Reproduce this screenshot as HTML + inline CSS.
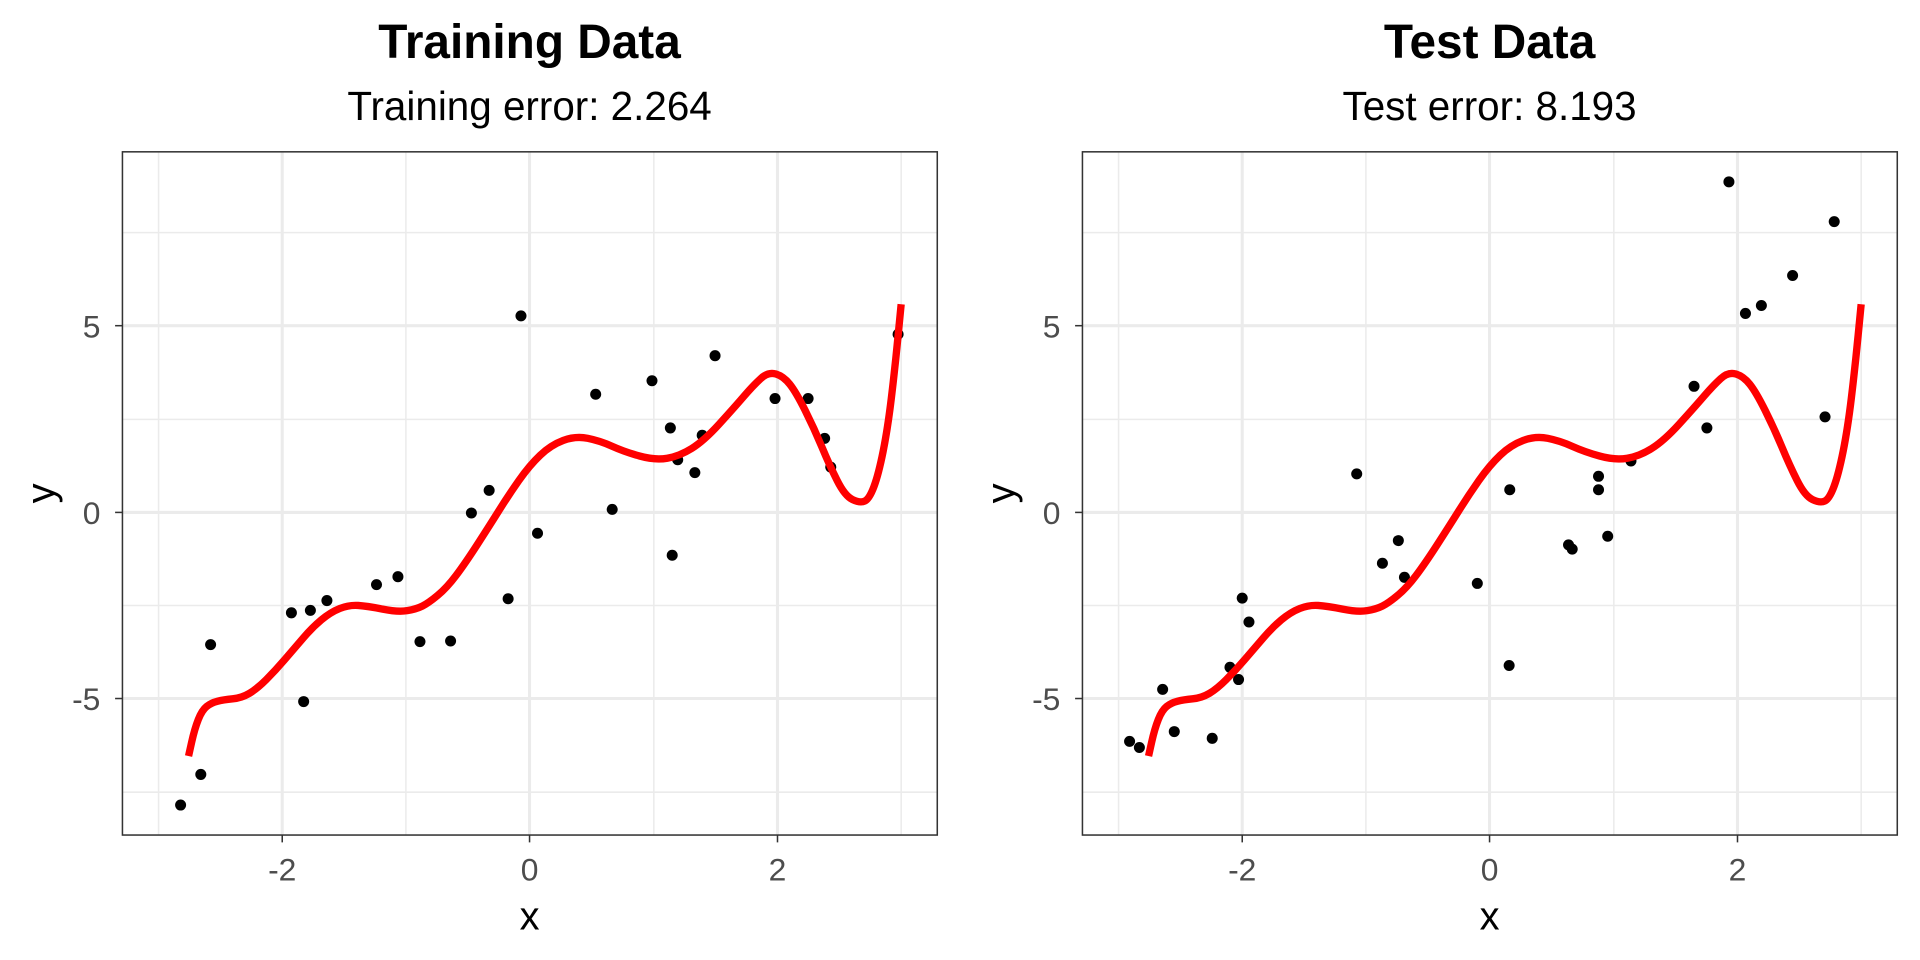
<!DOCTYPE html>
<html><head><meta charset="utf-8"><style>
html,body{margin:0;padding:0;background:#fff;}
svg{display:block;}
text{font-family:"Liberation Sans",Arial,sans-serif;}
</style></head><body>
<svg width="1920" height="960" viewBox="0 0 1920 960" xmlns="http://www.w3.org/2000/svg">
<defs>
<g id="frame">
  <rect x="200" y="248" width="1331" height="1116" fill="#fff"/>
  <g stroke="#ebebeb" stroke-width="2.5" fill="none">
    <line x1="259" y1="248" x2="259" y2="1364"/><line x1="663" y1="248" x2="663" y2="1364"/>
    <line x1="1068" y1="248" x2="1068" y2="1364"/><line x1="1472" y1="248" x2="1472" y2="1364"/>
    <line x1="200" y1="380" x2="1531" y2="380"/><line x1="200" y1="685" x2="1531" y2="685"/>
    <line x1="200" y1="989" x2="1531" y2="989"/><line x1="200" y1="1294" x2="1531" y2="1294"/>
  </g>
  <g stroke="#ebebeb" stroke-width="5" fill="none">
    <line x1="461" y1="248" x2="461" y2="1364"/><line x1="865" y1="248" x2="865" y2="1364"/>
    <line x1="1270" y1="248" x2="1270" y2="1364"/>
    <line x1="200" y1="532" x2="1531" y2="532"/><line x1="200" y1="837" x2="1531" y2="837"/>
    <line x1="200" y1="1141" x2="1531" y2="1141"/>
  </g>
  <g stroke="#333" stroke-width="2.5">
    <line x1="461" y1="1364" x2="461" y2="1376"/><line x1="865" y1="1364" x2="865" y2="1376"/><line x1="1270" y1="1364" x2="1270" y2="1376"/>
    <line x1="188" y1="532" x2="200" y2="532"/><line x1="188" y1="837" x2="200" y2="837"/><line x1="188" y1="1141" x2="200" y2="1141"/>
  </g>
  <g fill="#4d4d4d" font-size="52">
    <text x="461" y="1438" text-anchor="middle">-2</text>
    <text x="865" y="1438" text-anchor="middle">0</text>
    <text x="1270" y="1438" text-anchor="middle">2</text>
    <text x="164" y="551" text-anchor="end">5</text>
    <text x="164" y="856" text-anchor="end">0</text>
    <text x="164" y="1160" text-anchor="end">-5</text>
  </g>
  <text x="865" y="1518" font-size="65" text-anchor="middle" fill="#000">x</text>
  <text transform="translate(88,806) rotate(-90)" font-size="65" text-anchor="middle" fill="#000">y</text>
</g>
<path id="curve" fill="none" stroke="#ff0000" stroke-width="12" stroke-linejoin="round" d="M308,1235 L313,1212.5 Q318,1190 324,1175 Q330,1160 337.5,1154 Q345,1148 355,1145.5 Q365,1143 380,1141.5 Q395,1140 407.5,1132.5 Q420,1125 435,1110 Q450,1095 465,1077.5 Q480,1060 495,1042.5 Q510,1025 525,1012.5 Q540,1000 555,994 Q570,988 585,989 Q600,990 625,995 Q650,1000 665,997.5 Q680,995 690,990 Q700,985 715,972.5 Q730,960 745,940 Q760,920 780,889 Q800,858 815,834 Q830,810 847.5,785 Q865,760 882.5,743.5 Q900,727 920,719.5 Q940,712 960,716 Q980,720 1000,729 Q1020,738 1045,745 Q1070,752 1090,748.5 Q1110,745 1130,732.5 Q1150,720 1175,692.5 Q1200,665 1215,647.5 Q1230,630 1242.5,618.5 Q1255,607 1267.5,611 Q1280,615 1290,627.5 Q1300,640 1315,670 Q1330,700 1342.5,730 Q1355,760 1367.5,785 Q1380,810 1392.5,816 Q1405,822 1412.5,818.5 Q1420,815 1427.5,795 Q1435,775 1442.5,737.5 Q1450,700 1456,650 Q1462,600 1467,548.5 L1472,497"/>
<rect id="border" x="200" y="248" width="1331" height="1116" fill="none" stroke="#333" stroke-width="2.5"/>
</defs>

<g transform="scale(0.6122)">
  <use href="#frame"/>
  <g fill="#000">
    <circle cx="295" cy="1315" r="9"/><circle cx="328" cy="1265" r="9"/><circle cx="344" cy="1053" r="9"/>
    <circle cx="476" cy="1001" r="9"/><circle cx="496" cy="1146" r="9"/><circle cx="507" cy="997" r="9"/>
    <circle cx="534" cy="981" r="9"/><circle cx="615" cy="955" r="9"/><circle cx="650" cy="942" r="9"/>
    <circle cx="686" cy="1048" r="9"/><circle cx="736" cy="1047" r="9"/><circle cx="770" cy="838" r="9"/>
    <circle cx="799" cy="801" r="9"/><circle cx="830" cy="978" r="9"/><circle cx="851" cy="516" r="9"/>
    <circle cx="878" cy="871" r="9"/><circle cx="973" cy="644" r="9"/><circle cx="1000" cy="832" r="9"/>
    <circle cx="1065" cy="622" r="9"/><circle cx="1095" cy="699" r="9"/><circle cx="1098" cy="907" r="9"/>
    <circle cx="1107" cy="751" r="9"/><circle cx="1135" cy="772" r="9"/><circle cx="1147" cy="711" r="9"/>
    <circle cx="1168" cy="581" r="9"/><circle cx="1266" cy="651" r="9"/><circle cx="1320" cy="651" r="9"/>
    <circle cx="1347" cy="716" r="9"/><circle cx="1357" cy="763" r="9"/><circle cx="1467" cy="546" r="9"/>
  </g>
  <use href="#curve"/>
  <use href="#border"/>
  <text x="865" y="95" font-size="78" font-weight="bold" text-anchor="middle">Training Data</text>
  <text x="865" y="196" font-size="66" text-anchor="middle">Training error: 2.264</text>
</g>

<g transform="translate(960,0) scale(0.6122)">
  <use href="#frame"/>
  <g fill="#000">
    <circle cx="277" cy="1211" r="9"/><circle cx="293" cy="1221" r="9"/><circle cx="331" cy="1126" r="9"/>
    <circle cx="350" cy="1195" r="9"/><circle cx="412" cy="1206" r="9"/><circle cx="441" cy="1090" r="9"/>
    <circle cx="455" cy="1110" r="9"/><circle cx="461" cy="977" r="9"/><circle cx="472" cy="1016" r="9"/>
    <circle cx="648" cy="774" r="9"/><circle cx="690" cy="920" r="9"/><circle cx="716" cy="883" r="9"/>
    <circle cx="726" cy="943" r="9"/><circle cx="845" cy="953" r="9"/><circle cx="897" cy="1087" r="9"/>
    <circle cx="898" cy="800" r="9"/><circle cx="994" cy="890" r="9"/><circle cx="1000" cy="897" r="9"/>
    <circle cx="1043" cy="778" r="9"/><circle cx="1043" cy="800" r="9"/><circle cx="1058" cy="876" r="9"/>
    <circle cx="1096" cy="753" r="9"/><circle cx="1199" cy="631" r="9"/><circle cx="1220" cy="699" r="9"/>
    <circle cx="1256" cy="297" r="9"/><circle cx="1283" cy="512" r="9"/><circle cx="1309" cy="499" r="9"/>
    <circle cx="1360" cy="450" r="9"/><circle cx="1413" cy="681" r="9"/><circle cx="1428" cy="362" r="9"/>
  </g>
  <use href="#curve"/>
  <use href="#border"/>
  <text x="865" y="95" font-size="78" font-weight="bold" text-anchor="middle">Test Data</text>
  <text x="865" y="196" font-size="66" text-anchor="middle">Test error: 8.193</text>
</g>
</svg>
</body></html>
